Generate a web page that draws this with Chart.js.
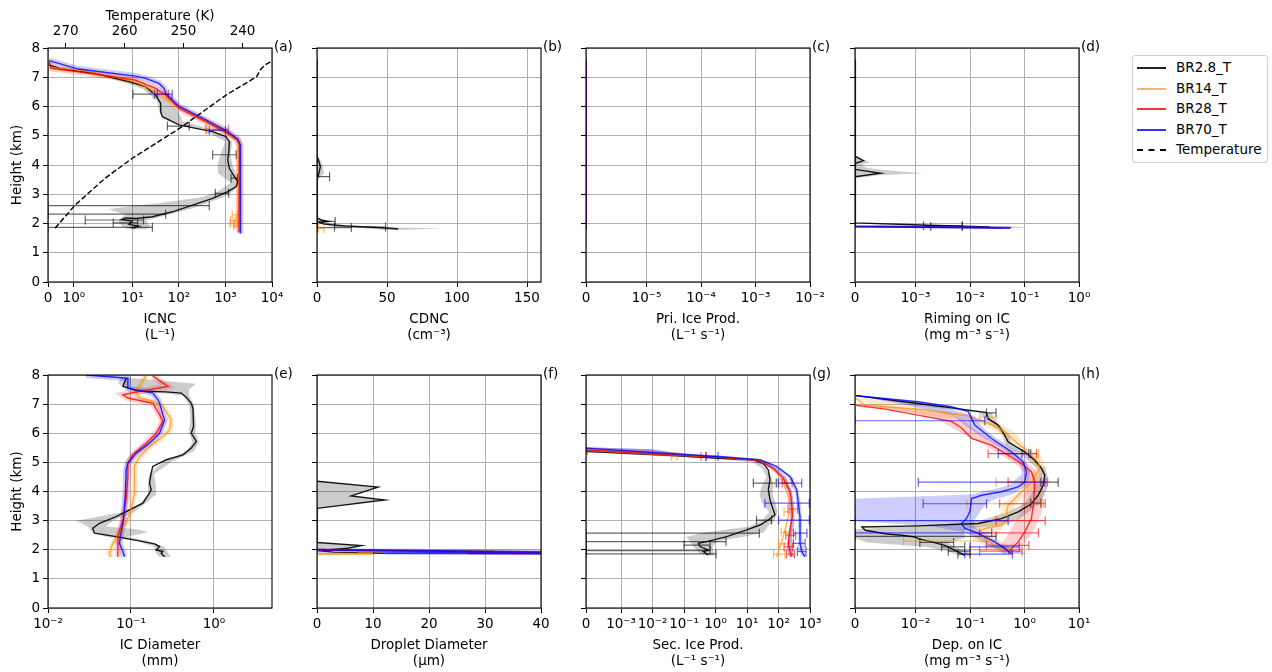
<!DOCTYPE html>
<html lang="en">
<head>
<meta charset="UTF-8">
<title>Vertical profiles</title>
<script src="https://cdn.jsdelivr.net/npm/chart.js@4.4.1/dist/chart.umd.min.js"></script>
<style>
  html, body { margin: 0; padding: 0; background: #fff; overflow: hidden; }
  body { width: 1272px; height: 672px; position: relative; font-family: 'DejaVu Sans', sans-serif; }
  canvas { position: absolute; }
  #legend { position: absolute; left: 1132px; top: 55px; width: 134px; height: 106px;
            border: 1px solid #d0d0d0; border-radius: 3px; font-size: 13.5px; }
  .item { position: absolute; left: 4px; height: 20px; line-height: 20px; white-space: nowrap; }
  .item span.s { position: absolute; left: 0; top: 10px; width: 29px; height: 0; border-top: 2px solid #000; }
  .item span.t { position: absolute; left: 39px; top: 0; }
</style>
</head>
<body>
<div id="legend"></div>
<script>
// ---- series names / colours ----
const NAMES = ['BR2.8_T', 'BR14_T', 'BR28_T', 'BR70_T'];
const LINE = ['rgba(0,0,0,0.9)', 'rgba(255,140,0,0.7)', 'rgba(255,0,0,0.8)', 'rgba(0,0,255,0.8)'];
const LEG = ['#222222', '#ffb466', '#ff3333', '#3333ff'];
const FILL = ['rgba(0,0,0,0.2)', 'rgba(255,140,0,0.2)', 'rgba(255,0,0,0.18)', 'rgba(0,0,255,0.2)'];
const ERR = ['rgba(0,0,0,0.6)', 'rgba(255,140,0,0.6)', 'rgba(255,0,0,0.6)', 'rgba(0,0,255,0.6)'];
const GRID = '#b0b0b0';

// ---- axis ticks ----
const Y_TICKS = [0, 1, 2, 3, 4, 5, 6, 7, 8];
const TICKS_A = [0, 1, 10, 100, 1000, 10000];
const LABELS_A = ['0', '10⁰', '10¹', '10²', '10³', '10⁴'];
const TICKS_T = [270, 260, 250, 240];
const TICKS_B = [0, 50, 100, 150];
const TICKS_C = [0, 1e-5, 1e-4, 1e-3, 1e-2];
const LABELS_C = ['0', '10⁻⁵', '10⁻⁴', '10⁻³', '10⁻²'];
const TICKS_D = [0, 1e-3, 1e-2, 1e-1, 1];
const LABELS_D = ['0', '10⁻³', '10⁻²', '10⁻¹', '10⁰'];
const TICKS_E = [0.01, 0.1, 1];
const LABELS_E = ['10⁻²', '10⁻¹', '10⁰'];
const TICKS_F = [0, 10, 20, 30, 40];
const TICKS_G = [0, 1e-3, 1e-2, 1e-1, 1, 10, 100, 1000];
const LABELS_G = ['0', '10⁻³', '10⁻²', '10⁻¹', '10⁰', '10¹', '10²', '10³'];
const TICKS_H = [0, 1e-2, 1e-1, 1, 10];
const LABELS_H = ['0', '10⁻²', '10⁻¹', '10⁰', '10¹'];

// ---- (a) ICNC (L-1) ----
const A_BLK_H = [7.42, 7.28, 7.13, 6.85, 6.68, 6.39, 6.11, 5.82, 5.65, 5.48, 5.37, 5.25, 5.14, 4.97, 4.80, 4.45, 4.17, 3.88, 3.60, 3.43, 3.26, 3.09, 2.86, 2.63, 2.40, 2.23, 2.17, 2.19, 2.14, 2.08, 1.97, 1.91, 1.86, 1.84];
const A_BLK_V = [0.04, 0.53, 1.83, 8.4, 19.3, 31.7, 40.7, 40.7, 44.3, 72.8, 101, 232, 532, 1030, 1216, 1180, 1123, 1216, 1560, 1841, 1700, 1123, 532, 197, 72.8, 27, 11.7, 7.1, 6.0, 9.96, 8.4, 13.8, 9.96, 11.7];
const A_BLK_BH = [7.4, 7.0, 6.6, 6.2, 5.8, 5.5, 5.2, 4.8, 4.4, 4.0, 3.7, 3.4, 3.1, 2.9, 2.7, 2.5, 2.3, 2.1, 1.9, 1.8];
const A_BLK_LO = [0.03, 3, 17, 34, 38, 60, 330, 1000, 800, 680, 700, 1300, 700, 300, 40, 3, 7, 5, 6, 8];
const A_BLK_HI = [0.1, 6, 26, 60, 100, 120, 550, 1400, 1300, 1400, 1700, 2000, 1500, 900, 400, 180, 60, 20, 25, 20];
const A_ORG_H = [7.34, 7.2, 6.85, 6.5, 6.0, 5.5, 5.1, 4.85, 4.68, 2.5, 2.3, 2.1, 1.95, 1.85];
const A_ORG_V = [0.04, 1.5, 11.7, 31.7, 95, 370, 1100, 1800, 1950, 1950, 1800, 1600, 1500, 1650];
const A_RED_H = [7.53, 7.30, 7.19, 6.90, 6.62, 6.39, 5.94, 5.48, 5.08, 4.86, 4.68, 1.70];
const A_RED_V = [0.04, 0.12, 1.18, 11.7, 31.7, 52, 101, 381, 1123, 1841, 2000, 1950];
const A_BLU_H = [7.57, 7.28, 7.04, 6.96, 6.79, 6.62, 6.45, 6.00, 5.54, 5.14, 4.88, 4.68, 1.66];
const A_BLU_V = [0.04, 1.18, 11.7, 19.3, 37.4, 48, 52, 101, 381, 1123, 1841, 2100, 2100];
const A_ERR_BLK = [[6.42, 10.3, 34.5], [5.33, 56.8, 167], [4.35, 532, 1700], [3.55, 1320, 1841], [3.03, 607, 1176], [2.61, 0, 450], [2.32, 0, 52], [2.12, 1.44, 17.4], [2.02, 3.9, 13], [1.87, 0, 27]];
const A_ERR_ORG = [[6.42, 28, 55], [5.2, 400, 800], [2.3, 1400, 2000], [2.1, 1300, 1900], [2.0, 1250, 1800], [1.92, 1500, 2100]];
const A_ERR_RED = [[6.42, 35, 60], [5.22, 380, 1150]];
const A_ERR_BLU = [[6.42, 30, 72], [5.18, 450, 1000]];
const TEMP_H = [1.84, 2.63, 3.55, 4.23, 5.25, 6.39, 7.02, 7.25, 7.42, 7.59];
const TEMP_K = [271.8, 268.4, 263.3, 258.7, 250.7, 242.8, 237.6, 237.0, 236.2, 234.7];

// ---- (b) CDNC (cm-3) ----
const B_BLK_H = [4.3, 4.1, 3.94, 3.75, 3.6, 3.55, 2.25, 2.18, 2.12, 2.07, 2.03, 1.98, 1.92, 1.87, 1.84, 1.81];
const B_BLK_V = [0, 1.5, 2.4, 1.5, 0.8, 0, 0, 0.5, 3, 8, 2, 5, 20, 40, 52, 58];
const B_BND1_H = [4.3, 4.0, 3.7, 3.5];
const B_BND1_LO = [0, 0, 0, 0];
const B_BND1_HI = [1, 4, 5, 0];
const B_BND2_H = [2.2, 2.0, 1.9, 1.83, 1.78];
const B_BND2_LO = [0, 2, 10, 35, 50];
const B_BND2_HI = [1, 10, 30, 89, 60];
const B_ERR_BLK = [[3.6, 0, 9], [2.07, 0, 13], [1.88, 12.5, 49], [1.86, 0, 24.5]];
const B_ERR_ORG = [[1.83, 1, 5]];
const ZERO_H = [1.8, 7.6];
const ZERO_V = [0, 0];

// ---- (d) riming on IC ----
const D_BLK_H = [7.6, 4.3, 4.15, 4.05, 3.85, 3.72, 3.6, 2.1, 2.02, 1.94, 1.88];
const D_BLK_V = [0, 0, 1.4e-4, 0, 0, 4.2e-4, 0, 0, 1e-5, 1.8e-3, 0.0228];
const D_BND1_H = [4.3, 4.2, 4.1, 4.0, 3.9, 3.8, 3.72, 3.65, 3.55];
const D_BND1_LO = [0, 0, 0, 0, 0, 0, 0, 0, 0];
const D_BND1_HI = [0, 1e-4, 2.5e-4, 1e-4, 2e-4, 6e-4, 1.4e-3, 4e-4, 0];
const D_BND2_H = [2.0, 1.93, 1.88, 1.85];
const D_BND2_LO = [0, 1e-3, 0.015, 0];
const D_BND2_HI = [0, 3e-3, 0.09, 0.1];
const D_BLU_H = [7.6, 1.9, 1.85, 1.84];
const D_BLU_V = [0, 0, 0.0546, 0.0546];
const D_RED_H = [7.6, 1.9, 1.85];
const D_RED_V = [0, 0, 0.04];
const D_ORG_H = [7.6, 1.9, 1.86];
const D_ORG_V = [0, 0, 0.035];
const D_ERR_BLK = [[1.92, 1.4e-3, 7.2e-3], [1.9, 1.9e-3, 7.2e-3]];

// ---- (e) IC diameter (mm) ----
const E_BLK_H = [7.89, 7.61, 7.44, 7.42, 7.38, 7.24, 7.03, 6.86, 6.23, 6.00, 5.72, 5.49, 5.26, 5.09, 4.86, 4.63, 4.29, 4.06, 3.94, 3.60, 3.37, 3.14, 2.91, 2.74, 2.57, 2.45, 2.28, 2.20, 2.11, 1.99, 1.94, 1.88, 1.76];
const E_BLK_V = [0.0875, 0.0797, 0.127, 0.266, 0.403, 0.463, 0.532, 0.557, 0.568, 0.532, 0.612, 0.532, 0.423, 0.266, 0.183, 0.175, 0.167, 0.175, 0.167, 0.139, 0.096, 0.0662, 0.0417, 0.0346, 0.0363, 0.0662, 0.139, 0.192, 0.221, 0.201, 0.242, 0.231, 0.254];
const E_BLK_BH = [7.9, 7.7, 7.5, 7.3, 7.0, 6.5, 6.0, 5.7, 5.4, 5.0, 4.6, 4.2, 3.9, 3.6, 3.3, 3.0, 2.8, 2.7, 2.6, 2.45, 2.3, 2.1, 1.9, 1.75];
const E_BLK_LO = [0.075, 0.07, 0.1, 0.42, 0.5, 0.52, 0.5, 0.55, 0.47, 0.24, 0.165, 0.16, 0.16, 0.13, 0.08, 0.022, 0.03, 0.032, 0.034, 0.05, 0.12, 0.19, 0.2, 0.22];
const E_BLK_HI = [0.1, 0.61, 0.5, 0.5, 0.57, 0.6, 0.6, 0.66, 0.58, 0.3, 0.19, 0.2, 0.2, 0.15, 0.11, 0.06, 0.05, 0.12, 0.16, 0.09, 0.16, 0.25, 0.28, 0.3];
const E_ORG_H = [7.99, 7.61, 7.38, 7.21, 7.09, 6.92, 6.46, 6.11, 5.89, 5.54, 5.20, 4.86, 3.94, 3.37, 2.91, 2.57, 2.22, 1.88, 1.76];
const E_ORG_V = [0.152, 0.127, 0.115, 0.127, 0.183, 0.242, 0.305, 0.292, 0.242, 0.167, 0.127, 0.110, 0.110, 0.100, 0.0875, 0.0726, 0.0604, 0.055, 0.0575];
const E_RED_H = [7.96, 7.61, 7.44, 7.32, 7.21, 7.03, 6.63, 6.40, 6.00, 5.66, 5.26, 4.97, 4.52, 3.72, 3.02, 2.45, 2.11, 1.76];
const E_RED_V = [0.183, 0.279, 0.127, 0.0797, 0.0916, 0.183, 0.221, 0.242, 0.201, 0.152, 0.105, 0.0916, 0.0916, 0.0875, 0.0797, 0.0694, 0.0694, 0.0694];
const E_BLU_H = [8.0, 7.89, 7.55, 7.38, 7.15, 7.03, 6.63, 6.46, 6.00, 5.66, 5.31, 4.97, 4.74, 3.94, 3.48, 3.02, 2.57, 2.22, 1.94, 1.76];
const E_BLU_V = [0.0288, 0.0916, 0.0916, 0.183, 0.211, 0.221, 0.242, 0.254, 0.221, 0.167, 0.115, 0.0916, 0.0875, 0.0859, 0.0835, 0.0812, 0.076, 0.0726, 0.0797, 0.0835];

// ---- (f) droplet diameter (um) ----
const F_BLK_H = [4.35, 4.15, 3.85, 3.71, 3.42, 2.25, 2.14, 2.05, 1.97, 1.92, 1.88];
const F_BLK_V = [0, 10.9, 6.1, 12.1, 0, 0, 7.9, 5.5, 0, 3, 12];
const F_BND1_H = [4.35, 4.15, 3.85, 3.71, 3.42];
const F_BND1_LO = [0, 0, 0, 0, 0];
const F_BND1_HI = [0, 10.9, 6.1, 12.1, 0];
const F_BND2_H = [2.25, 2.14, 2.05, 2.0, 1.97, 1.94];
const F_BND2_LO = [0, 0, 0, 0, 0, 0];
const F_BND2_HI = [0, 7.9, 5.5, 40, 45, 0];
const F_ORG_H = [2.0, 1.965, 1.955, 1.87, 1.85];
const F_ORG_V = [0, 31.6, 7, 10, 0];
const F_RED_H = [2.0, 1.9, 1.88, 1.87];
const F_RED_V = [0, 40, 27, 45];
const F_BLU_H = [2.0, 1.91, 1.88, 1.865];
const F_BLU_V = [0, 48, 12, 48];
const F_BND3_H = [1.92, 1.88, 1.85];
const F_BND3_LO = [0, 0, 0];
const F_BND3_HI = [0, 45, 0];

// ---- (g) secondary ice production ----
const G_BLK_H = [5.45, 5.38, 5.26, 5.14, 5.09, 4.97, 4.74, 4.40, 4.06, 3.71, 3.37, 3.20, 3.02, 2.85, 2.68, 2.45, 2.28, 2.22, 2.11, 1.99, 1.94, 1.82];
const G_BLK_V = [0, 2e-5, 0.0173, 1.39, 15.9, 32.9, 47.5, 53.7, 47.5, 53.7, 68.4, 77.4, 47.5, 25.9, 9.78, 2.26, 0.525, 0.285, 0.323, 0.592, 0.411, 0.592];
const G_BLK_BH = [5.45, 5.3, 5.15, 5.0, 4.8, 4.5, 4.2, 3.9, 3.6, 3.3, 3.0, 2.8, 2.6, 2.45, 2.3, 2.1, 1.9, 1.8];
const G_BLK_LO = [0, 0.005, 0.8, 15, 30, 42, 30, 25, 30, 50, 30, 12, 0.5, 0.12, 0.15, 0.2, 0.3, 0.5];
const G_BLK_HI = [0, 0.03, 2.5, 22, 40, 60, 70, 65, 80, 95, 75, 45, 35, 8, 1.2, 0.8, 0.9, 0.9];
const G_ORG_H = [5.41, 5.27, 5.17, 5.05, 4.74, 4.29, 3.83, 3.37, 2.91, 2.45, 2.11, 1.76];
const G_ORG_V = [0, 0.0173, 1.39, 25.9, 77.4, 142, 205, 232, 182, 142, 112, 87.5];
const G_RED_H = [5.43, 5.28, 5.18, 5.06, 4.80, 4.46, 4.0, 3.60, 3.14, 2.68, 2.22, 1.94, 1.76];
const G_RED_V = [0, 0.0173, 1.39, 25.9, 68.4, 142, 232, 262, 275, 232, 205, 232, 262];
const G_BLU_H = [5.49, 5.32, 5.20, 5.09, 4.86, 4.52, 4.06, 3.60, 3.14, 2.68, 2.22, 1.94, 1.76];
const G_BLU_V = [0, 0.0173, 1.39, 25.9, 87.5, 232, 378, 427, 482, 482, 482, 546, 693];
const G_BND_H = [5.52, 5.45, 5.35, 5.25, 5.15, 5.05, 4.8, 4.5, 4.0, 3.5, 3.0, 2.5, 2.0, 1.75];
const G_BLU_LO = [0, 0, 0, 0.005, 0.5, 18, 75, 200, 330, 380, 420, 420, 430, 550];
const G_BLU_HI = [0, 0.01, 0.05, 0.3, 3, 40, 110, 280, 440, 520, 560, 560, 650, 800];
const G_RED_LO = [0, 0, 0, 0.004, 0.4, 15, 55, 120, 200, 230, 240, 200, 190, 220];
const G_RED_HI = [0, 0.008, 0.04, 0.25, 2.5, 35, 85, 170, 270, 310, 320, 270, 280, 310];
const G_ERR_BLK = [[4.29, 15.9, 87.5], [3.02, 20, 60], [2.57, 0, 24.6], [2.28, 0, 2.15], [2.16, 0.1, 0.668], [1.97, 0, 0.668], [1.86, 0, 1.04]];
const G_ERR_ORG = [[5.2, 0.04, 0.06], [4.29, 80, 180], [3.3, 150, 280], [2.6, 120, 250], [2.2, 100, 200], [1.85, 70, 160]];
const G_ERR_RED = [[5.2, 0.35, 0.5], [4.29, 130, 270], [3.4, 200, 400], [2.5, 170, 350], [2.1, 150, 280], [1.85, 180, 320]];
const G_ERR_BLU = [[5.2, 0.5, 1.2], [4.29, 100, 546], [3.60, 37, 950], [3.02, 100, 950], [2.57, 300, 800], [2.22, 300, 700], [1.94, 400, 750]];

// ---- (h) deposition on IC ----
const H_BLK_H = [7.29, 7.02, 6.87, 6.71, 6.50, 6.28, 5.93, 5.70, 5.36, 5.07, 4.79, 4.56, 4.21, 3.87, 3.58, 3.30, 3.07, 2.90, 2.82, 2.78, 2.67, 2.55, 2.50, 2.44, 2.38, 2.27, 2.15, 2.10, 2.04, 1.87, 1.81];
const H_BLK_V = [1.6e-4, 0.0112, 0.0458, 0.201, 0.215, 0.329, 0.435, 0.502, 1.01, 1.55, 2.05, 2.36, 2.2, 1.78, 1.34, 0.766, 0.378, 0.141, 0.0112, 0.00115, 0.0017, 0.005, 0.0077, 0.0099, 0.0112, 0.0197, 0.0345, 0.0398, 0.0458, 0.0698, 0.0802];
const H_ORG_H = [7.20, 6.96, 6.83, 6.60, 6.37, 6.21, 5.93, 5.64, 5.36, 5.02, 4.79, 4.32, 4.10, 3.76, 3.53, 3.30, 3.07, 2.84, 2.73, 2.61, 2.38, 2.15, 1.93];
const H_ORG_V = [1.6e-4, 0.0017, 0.0112, 0.0928, 0.187, 0.329, 0.502, 0.766, 1.17, 1.78, 1.9, 1.34, 1.01, 0.664, 0.502, 0.468, 0.502, 0.378, 0.187, 0.141, 0.187, 0.285, 0.435];
const H_RED_H = [6.96, 6.83, 6.41, 6.18, 5.82, 5.59, 5.25, 4.96, 4.67, 4.32, 3.99, 3.53, 3.07, 2.61, 2.27, 2.04, 1.87];
const H_RED_V = [1.6e-4, 0.005, 0.0458, 0.0698, 0.107, 0.248, 0.502, 0.881, 1.34, 1.55, 1.51, 1.45, 1.34, 1.01, 0.766, 0.577, 0.502];
const H_BLU_H = [7.29, 7.08, 6.91, 6.74, 6.28, 5.82, 5.36, 5.02, 4.67, 4.32, 4.16, 3.99, 3.87, 3.76, 3.30, 3.07, 2.90, 2.73, 2.61, 2.44, 2.27, 2.04, 1.87];
const H_BLU_V = [1.6e-4, 0.0112, 0.0458, 0.0928, 0.122, 0.248, 0.577, 0.946, 1.09, 1.01, 0.766, 0.378, 0.163, 0.107, 0.099, 0.086, 0.0698, 0.0802, 0.122, 0.187, 0.285, 0.435, 0.577];
const H_BLK_BH = [7.3, 7.0, 6.7, 6.4, 6.0, 5.6, 5.2, 4.8, 4.4, 4.0, 3.6, 3.3, 3.0, 2.85, 2.7, 2.55, 2.4, 2.25, 2.1, 1.95, 1.8];
const H_BLK_LO = [0, 0.008, 0.15, 0.2, 0.38, 0.45, 0.95, 1.7, 1.9, 1.4, 1.0, 0.5, 0.15, 0.02, 0, 0, 0, 0.002, 0.015, 0.04, 0.06];
const H_BLK_HI = [0.001, 0.02, 0.25, 0.3, 0.5, 0.6, 1.3, 2.4, 2.8, 2.5, 1.9, 1.2, 0.7, 0.4, 0.08, 0.08, 0.08, 0.04, 0.05, 0.09, 0.1];
const H_BLU_BH = [7.3, 7.0, 6.6, 6.2, 5.8, 5.4, 5.0, 4.6, 4.2, 3.9, 3.75, 3.6, 3.3, 3.0, 2.8, 2.6, 2.4, 2.2, 2.0, 1.85];
const H_BLU_LO = [0, 0.008, 0.05, 0.09, 0.19, 0.45, 0.8, 0.9, 0.5, 0.1, 0, 0, 0, 0, 0.02, 0.08, 0.13, 0.2, 0.3, 0.4];
const H_BLU_HI = [0.001, 0.02, 0.12, 0.17, 0.32, 0.7, 1.1, 1.3, 1.1, 0.6, 0.3, 0.2, 0.15, 0.12, 0.12, 0.17, 0.25, 0.38, 0.6, 1.2];
const H_RED_BH = [7.0, 6.7, 6.4, 6.0, 5.6, 5.2, 4.8, 4.4, 4.0, 3.6, 3.2, 2.8, 2.4, 2.1, 1.9];
const H_RED_LO = [0, 0.01, 0.03, 0.07, 0.18, 0.4, 0.9, 1.1, 1.0, 0.9, 0.8, 0.6, 0.45, 0.35, 0.4];
const H_RED_HI = [0.002, 0.04, 0.08, 0.15, 0.35, 0.7, 1.5, 2.0, 2.2, 2.2, 2.0, 1.6, 1.2, 0.9, 0.8];
const H_ORG_BH = [7.2, 6.8, 6.4, 6.0, 5.6, 5.2, 4.8, 4.4, 4.0, 3.6, 3.2, 2.8, 2.4, 2.0];
const H_ORG_LO = [0, 0.005, 0.12, 0.35, 0.6, 1.2, 1.6, 1.1, 0.8, 0.4, 0.35, 0.1, 0.1, 0.25];
const H_ORG_HI = [0.002, 0.03, 0.3, 0.7, 1.0, 2.0, 2.5, 2.0, 1.3, 0.7, 0.6, 0.4, 0.3, 0.6];
const H_ERR_BLK = [[6.7, 0.2, 0.3], [5.3, 0.9, 1.3], [4.32, 2.0, 4.15], [3.6, 1.3, 2.0], [2.46, 0, 0.3], [2.25, 0.012, 0.05], [2.1, 0.03, 0.08], [1.95, 0.04, 0.1], [1.85, 0.06, 0.1]];
const H_ERR_ORG = [[6.55, 0.15, 0.3], [5.3, 0.5, 1.8], [4.32, 0.3, 0.9], [3.58, 0.088, 2.2], [2.3, 0.008, 0.2], [2.0, 0.1, 0.6]];
const H_ERR_RED = [[5.3, 0.215, 1.66], [4.32, 0.5, 2.6], [3.58, 0.35, 2.4], [3.0, 0.3, 2.4], [2.58, 0.15, 1.8], [2.15, 0.2, 1.2], [1.95, 0.15, 0.9]];
const H_ERR_BLU = [[6.43, 0, 0.187], [5.3, 0.33, 1.2], [4.32, 0.0112, 2.36], [3.58, 0.0138, 0.201], [3.0, 0, 0.5], [2.58, 0, 0.25], [2.1, 0.1, 0.8], [1.85, 0.08, 0.6]];

// ---- symlog axis (matplotlib style, linscale 1, base 10) ----
class SymlogScale extends Chart.Scale {
  parse(raw) { const v = +raw; return raw === null || raw === undefined || !isFinite(v) ? null : v; }
  determineDataLimits() { this.min = this.options.min; this.max = this.options.max; }
  buildTicks() { return this.options.tickValues.map(v => ({ value: v })); }
  tf(v) {
    const c = this.options.linthresh, s = 1 / (1 - 0.1), a = Math.abs(v);
    const r = a <= c ? a / c * s : s + Math.log10(a / c);
    return v < 0 ? -r : r;
  }
  configure() { super.configure(); this._t0 = this.tf(this.min); this._tr = this.tf(this.max) - this._t0; }
  getPixelForValue(v) {
    if (v === null || v === undefined || isNaN(v)) return NaN;
    return this.getPixelForDecimal((this.tf(v) - this._t0) / this._tr);
  }
  getValueForPixel(p) {
    const t = this._t0 + this.getDecimalForPixel(p) * this._tr;
    const c = this.options.linthresh, s = 1 / (1 - 0.1), a = Math.abs(t);
    const v = a <= s ? a / s * c : c * Math.pow(10, a - s);
    return t < 0 ? -v : v;
  }
}
SymlogScale.id = 'symlog';
SymlogScale.defaults = {};
Chart.register(SymlogScale);

Chart.defaults.font.family = 'DejaVu Sans';
Chart.defaults.font.size = 13.5;
Chart.defaults.color = '#000';
Chart.defaults.animation = false;

// filled uncertainty bands and frame / panel letter
const bandPlugin = {
  id: 'bands',
  beforeDatasetsDraw(chart) {
    const ctx = chart.ctx, a = chart.chartArea;
    ctx.save();
    ctx.beginPath(); ctx.rect(a.left, a.top, a.right - a.left, a.bottom - a.top); ctx.clip();
    chart.data.datasets.forEach((ds, i) => {
      if (!ds.band) return;
      const pts = chart.getDatasetMeta(i).data;
      ctx.beginPath();
      pts.forEach((p, k) => k ? ctx.lineTo(p.x, p.y) : ctx.moveTo(p.x, p.y));
      ctx.closePath();
      ctx.fillStyle = ds.backgroundColor;
      ctx.fill();
    });
    ctx.restore();
  }
};
const framePlugin = {
  id: 'frame',
  afterDatasetsDraw(chart, args, opts) {
    const ctx = chart.ctx, a = chart.chartArea;
    ctx.save();
    ctx.strokeStyle = '#000'; ctx.lineWidth = 1.1;
    ctx.strokeRect(a.left, a.top, a.right - a.left, a.bottom - a.top);
    ctx.fillStyle = '#000';
    ctx.font = '13.5px "DejaVu Sans"';
    ctx.textBaseline = 'middle';
    ctx.fillText(opts.label, a.right + 2, a.top - 1);
    ctx.restore();
  }
};

function line(h, v, k, extra) {
  return Object.assign({ data: h.map((y, i) => ({ x: v[i], y })), borderColor: LINE[k], backgroundColor: LINE[k],
    borderWidth: 1.4, pointRadius: 0, showLine: true, order: 5 - k }, extra);
}
function halo(h, v, k) {
  return line(h, v, k, { borderColor: FILL[k], borderWidth: 6, order: 20 });
}
function band(h, lo, hi, k) {
  const pts = h.map((y, i) => ({ x: lo[i], y })).concat(h.map((y, i) => ({ x: hi[i], y })).reverse());
  return { data: pts, band: true, backgroundColor: FILL[k], borderColor: 'transparent', showLine: false, pointRadius: 0, order: 30 };
}
function bars(list, k) {
  const pts = [];
  list.forEach(([y, lo, hi]) => pts.push({ x: lo, y }, { x: hi, y }, { x: NaN, y: NaN }));
  return { data: pts, borderColor: ERR[k], backgroundColor: ERR[k], borderWidth: 1.2, showLine: true,
    pointStyle: 'line', rotation: 90, pointRadius: 4.5, pointBorderColor: ERR[k], pointBorderWidth: 1.2, order: 5 - k };
}

const COLS = [48, 317, 586, 855];
const ROWS = [48, 375];
const PLOT_W = 224, PLOT_H = [234, 233];

function gridOpts() {
  return { color: GRID, lineWidth: 1, tickLength: 5, tickColor: '#000', tickWidth: 1 };
}

function panel(col, row, label, xopt, datasets, extraScales) {
  const L = col === 0 ? 48 : 10, R = 30, T = 48, B = 65;
  const cv = document.createElement('canvas');
  cv.width = L + PLOT_W + R;
  cv.height = T + PLOT_H[row] + B;
  cv.style.left = (COLS[col] - L) + 'px';
  cv.style.top = (ROWS[row] - T) + 'px';
  document.body.appendChild(cv);
  const x = Object.assign({
    position: 'bottom',
    afterBuildTicks: s => { s.ticks = xopt.ticks.map(v => ({ value: v })); },
    afterFit: s => { s.height = B; },
    grid: gridOpts(),
    border: { display: false },
    ticks: { autoSkip: false, maxRotation: 0, minRotation: 0, padding: 3,
      callback: (v, i) => xopt.labels ? xopt.labels[i] : String(xopt.ticks[i]) },
    title: { display: true, text: xopt.title, padding: { top: 0, bottom: 3 } }
  }, xopt.scale);
  const scales = {
    x,
    y: {
      type: 'linear', position: 'left', min: 0, max: 8,
      afterBuildTicks: s => { s.ticks = Y_TICKS.map(v => ({ value: v })); },
      afterFit: s => { s.width = L; },
      grid: gridOpts(),
      border: { display: false },
      ticks: { display: col === 0, padding: 3 },
      title: { display: col === 0, text: 'Height (km)', padding: { top: 9, bottom: 0 } }
    }
  };
  Object.assign(scales, extraScales || {});
  new Chart(cv, {
    type: 'scatter',
    data: { datasets },
    options: {
      responsive: false,
      animation: false,
      layout: { padding: { top: extraScales ? 0 : T, right: R, left: 0, bottom: 0 } },
      scales,
      plugins: { legend: { display: false }, tooltip: { enabled: false }, frame: { label } }
    },
    plugins: [bandPlugin, framePlugin]
  });
}

// (a)
panel(0, 0, '(a)',
  { ticks: TICKS_A, labels: LABELS_A, title: ['ICNC', '(L⁻¹)'],
    scale: { type: 'symlog', min: 0, max: 10000, linthresh: 2, tickValues: TICKS_A } },
  [
    Object.assign(line(TEMP_H, TEMP_K, 0, { xAxisID: 'xT', borderColor: '#000', borderWidth: 1.4, borderDash: [5.5, 2.4] }), { order: 0 }),
    band(A_BLK_BH, A_BLK_LO, A_BLK_HI, 0),
    halo(A_ORG_H, A_ORG_V, 1), halo(A_RED_H, A_RED_V, 2), halo(A_BLU_H, A_BLU_V, 3),
    line(A_BLK_H, A_BLK_V, 0), line(A_ORG_H, A_ORG_V, 1), line(A_RED_H, A_RED_V, 2), line(A_BLU_H, A_BLU_V, 3),
    bars(A_ERR_BLK, 0), bars(A_ERR_ORG, 1), bars(A_ERR_RED, 2), bars(A_ERR_BLU, 3)
  ],
  {
    xT: {
      type: 'linear', position: 'top', min: 235, max: 273, reverse: true,
      afterBuildTicks: s => { s.ticks = TICKS_T.map(v => ({ value: v })); },
      afterFit: s => { s.height = 48; },
      grid: { drawOnChartArea: false, tickLength: 5, tickColor: '#000', tickWidth: 1 },
      border: { display: false },
      ticks: { padding: 3, maxRotation: 0 },
      title: { display: true, text: 'Temperature (K)', padding: { top: 8, bottom: 0 } }
    }
  });

// (b)
panel(1, 0, '(b)',
  { ticks: TICKS_B, title: ['CDNC', '(cm⁻³)'], scale: { type: 'linear', min: 0, max: 160 } },
  [
    band(B_BND1_H, B_BND1_LO, B_BND1_HI, 0), band(B_BND2_H, B_BND2_LO, B_BND2_HI, 0),
    line(ZERO_H, ZERO_V, 3), line(ZERO_H, ZERO_V, 2),
    line(B_BLK_H, B_BLK_V, 0),
    bars(B_ERR_BLK, 0), bars(B_ERR_ORG, 1)
  ]);

// (c)
panel(2, 0, '(c)',
  { ticks: TICKS_C, labels: LABELS_C, title: ['Pri. Ice Prod.', '(L⁻¹ s⁻¹)'],
    scale: { type: 'symlog', min: 0, max: 1e-2, linthresh: 1e-5, tickValues: TICKS_C } },
  [line(ZERO_H, ZERO_V, 0), line(ZERO_H, ZERO_V, 1), line(ZERO_H, ZERO_V, 2), line(ZERO_H, ZERO_V, 3)]);

// (d)
panel(3, 0, '(d)',
  { ticks: TICKS_D, labels: LABELS_D, title: ['Riming on IC', '(mg m⁻³ s⁻¹)'],
    scale: { type: 'symlog', min: 0, max: 1, linthresh: 1e-3, tickValues: TICKS_D } },
  [
    band(D_BND1_H, D_BND1_LO, D_BND1_HI, 0), band(D_BND2_H, D_BND2_LO, D_BND2_HI, 3),
    line(D_ORG_H, D_ORG_V, 1), line(D_RED_H, D_RED_V, 2), line(D_BLU_H, D_BLU_V, 3, { borderWidth: 2.2 }),
    line(D_BLK_H, D_BLK_V, 0),
    bars(D_ERR_BLK, 0)
  ]);

// (e)
panel(0, 1, '(e)',
  { ticks: TICKS_E, labels: LABELS_E, title: ['IC Diameter', '(mm)'],
    scale: { type: 'logarithmic', min: 0.01, max: 5 } },
  [
    band(E_BLK_BH, E_BLK_LO, E_BLK_HI, 0),
    halo(E_ORG_H, E_ORG_V, 1), halo(E_RED_H, E_RED_V, 2), halo(E_BLU_H, E_BLU_V, 3),
    line(E_BLK_H, E_BLK_V, 0), line(E_ORG_H, E_ORG_V, 1), line(E_RED_H, E_RED_V, 2), line(E_BLU_H, E_BLU_V, 3)
  ]);

// (f)
panel(1, 1, '(f)',
  { ticks: TICKS_F, title: ['Droplet Diameter', '(μm)'], scale: { type: 'linear', min: 0, max: 40 } },
  [
    band(F_BND1_H, F_BND1_LO, F_BND1_HI, 0), band(F_BND2_H, F_BND2_LO, F_BND2_HI, 0), band(F_BND3_H, F_BND3_LO, F_BND3_HI, 3),
    line(F_BLK_H, F_BLK_V, 0), line(F_ORG_H, F_ORG_V, 1, { borderWidth: 2.2 }),
    line(F_RED_H, F_RED_V, 2, { borderWidth: 2 }), line(F_BLU_H, F_BLU_V, 3, { borderWidth: 2 })
  ]);

// (g)
panel(2, 1, '(g)',
  { ticks: TICKS_G, labels: LABELS_G, title: ['Sec. Ice Prod.', '(L⁻¹ s⁻¹)'],
    scale: { type: 'symlog', min: 0, max: 1000, linthresh: 1e-3, tickValues: TICKS_G } },
  [
    band(G_BLK_BH, G_BLK_LO, G_BLK_HI, 0), band(G_BND_H, G_BLU_LO, G_BLU_HI, 3), band(G_BND_H, G_RED_LO, G_RED_HI, 2),
    band(G_BND_H, G_RED_LO, G_RED_HI, 3),
    line(G_BLK_H, G_BLK_V, 0), line(G_ORG_H, G_ORG_V, 1), line(G_RED_H, G_RED_V, 2), line(G_BLU_H, G_BLU_V, 3),
    bars(G_ERR_BLK, 0), bars(G_ERR_ORG, 1), bars(G_ERR_RED, 2), bars(G_ERR_BLU, 3)
  ]);

// (h)
panel(3, 1, '(h)',
  { ticks: TICKS_H, labels: LABELS_H, title: ['Dep. on IC', '(mg m⁻³ s⁻¹)'],
    scale: { type: 'symlog', min: 0, max: 10, linthresh: 1e-2, tickValues: TICKS_H } },
  [
    band(H_BLK_BH, H_BLK_LO, H_BLK_HI, 0), band(H_ORG_BH, H_ORG_LO, H_ORG_HI, 1),
    band(H_RED_BH, H_RED_LO, H_RED_HI, 2), band(H_BLU_BH, H_BLU_LO, H_BLU_HI, 3),
    line(H_BLK_H, H_BLK_V, 0), line(H_ORG_H, H_ORG_V, 1), line(H_RED_H, H_RED_V, 2), line(H_BLU_H, H_BLU_V, 3),
    bars(H_ERR_BLK, 0), bars(H_ERR_ORG, 1), bars(H_ERR_RED, 2), bars(H_ERR_BLU, 3)
  ]);

// legend
const legend = document.getElementById('legend');
NAMES.concat(['Temperature']).forEach((name, i) => {
  const it = document.createElement('div');
  it.className = 'item';
  it.style.top = Math.round(1 + i * 20.5) + 'px';
  const s = document.createElement('span');
  s.className = 's';
  if (i < 4) s.style.borderTopColor = LEG[i];
  else s.style.borderTopStyle = 'dashed';
  const t = document.createElement('span');
  t.className = 't';
  t.textContent = name;
  it.appendChild(s); it.appendChild(t);
  legend.appendChild(it);
});
</script>
</body>
</html>
